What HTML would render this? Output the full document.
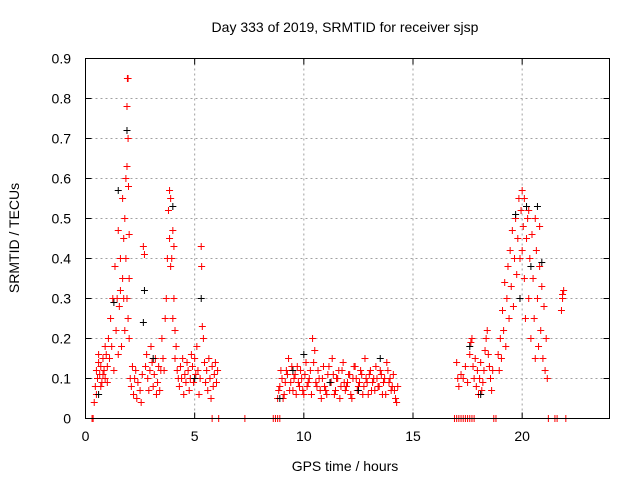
<!DOCTYPE html>
<html><head><meta charset="utf-8"><style>
body{margin:0;background:#fff;}
svg{display:block;font-family:"Liberation Sans",sans-serif;}
</style></head><body>
<svg id="chart" width="640" height="480" viewBox="0 0 640 480">
<rect width="640" height="480" fill="#fff"/>
<text x="345" y="32" font-size="14" text-anchor="middle">Day 333 of 2019, SRMTID for receiver sjsp</text>
<text transform="translate(19,238) rotate(-90)" font-size="14" text-anchor="middle">SRMTID / TECUs</text>
<text x="345" y="471" font-size="14" text-anchor="middle">GPS time / hours</text>
<g id="grid"></g>
<g id="ticks"></g>
<g id="red"></g>
<g id="black"></g>
<rect x="85.5" y="58.5" width="524" height="360" fill="none" stroke="#000" stroke-width="1"/>
</svg>
<script>
const xTicks=[0,5,10,15,20];
const yTicks=[0,0.1,0.2,0.3,0.4,0.5,0.6,0.7,0.8,0.9];
const yTickLabels=["0","0.1","0.2","0.3","0.4","0.5","0.6","0.7","0.8","0.9"];
const redT=[0.4,0.45,0.5,0.55,0.6,0.65,0.7,0.75,0.8,0.85,0.9,0.95,1.0,0.5,0.6,0.7,0.8,0.9,1.0,
1.05,1.1,1.15,1.2,1.25,1.3,1.35,1.4,1.45,1.5,1.5,1.55,1.6,1.6,1.65,1.7,1.7,1.75,1.75,1.8,1.8,1.85,1.85,1.9,1.9,1.92,1.95,1.95,1.97,2.0,2.0,1.95,1.9,2.0,
2.05,2.1,2.15,2.2,2.25,2.3,2.35,2.4,2.5,2.55,2.6,2.65,2.7,2.75,2.8,2.85,2.9,2.95,3.0,3.05,3.1,3.15,3.2,3.25,3.3,3.35,3.4,3.45,
3.5,3.55,3.6,3.65,3.7,3.75,3.8,3.85,3.85,3.9,3.9,3.95,4.0,4.0,4.05,4.05,4.1,4.1,4.15,4.2,4.25,
4.3,4.35,4.4,4.45,4.5,4.55,4.6,4.65,4.7,4.75,4.8,4.85,4.9,4.95,5.0,5.05,5.1,5.15,5.2,5.25,5.3,5.32,5.35,5.4,5.45,5.5,5.55,5.6,5.65,5.7,5.75,5.8,5.85,5.9,5.95,6.0,6.05,
8.8,8.9,9.0,9.1,9.2,9.3,9.4,9.5,9.6,9.7,9.8,9.9,10.0,10.1,10.2,10.3,10.4,10.5,10.6,10.7,10.8,10.9,11.0,11.1,11.2,11.3,11.4,11.5,11.6,11.7,11.8,11.9,12.0,12.1,12.2,12.3,12.4,12.5,12.6,12.7,12.8,12.9,13.0,13.1,13.2,13.3,13.4,13.5,13.6,13.7,13.8,13.9,14.0,14.1,14.2,14.3,
8.85,8.95,9.05,9.15,9.25,9.35,9.45,9.55,9.65,9.75,9.85,9.95,10.05,10.15,10.25,10.35,10.45,10.55,10.65,10.75,10.85,10.95,11.05,11.15,11.25,11.35,11.45,11.55,11.65,11.75,11.85,11.95,12.05,12.15,12.25,12.35,12.45,12.55,12.65,12.75,12.85,12.95,13.05,13.15,13.25,13.35,13.45,13.55,13.65,13.75,13.85,13.95,14.05,14.15,14.25,
17.0,17.05,17.1,17.2,17.3,17.4,17.5,17.6,17.65,17.7,17.75,17.8,17.85,17.9,17.95,18.0,18.05,18.1,18.15,18.2,18.25,18.3,18.35,18.4,18.45,18.5,18.55,18.6,18.65,
18.9,18.95,19.0,19.05,19.1,19.15,19.2,19.25,19.3,19.35,19.4,19.45,19.5,19.55,19.6,19.65,19.7,19.75,19.8,19.85,19.9,19.95,20.0,20.0,20.05,20.1,20.1,20.15,20.2,20.25,20.3,20.35,20.4,20.45,20.5,20.55,20.6,20.65,20.7,20.75,20.8,20.85,20.9,20.95,21.0,21.05,21.1,21.15,20.3,19.9,20.6,20.8,
21.8,21.85,21.9,21.85,
0.3,0.35,5.8,6.1,7.3,8.6,8.7,8.8,8.9,16.9,17.0,17.1,17.2,17.3,17.4,17.5,17.6,17.7,17.8,18.7,18.8,21.2,21.5,21.6,22.0];
const redV=[0.04,0.08,0.12,0.1,0.14,0.11,0.13,0.09,0.15,0.12,0.1,0.16,0.13,0.06,0.16,0.08,0.11,0.18,0.09,
0.2,0.15,0.25,0.18,0.3,0.12,0.38,0.22,0.3,0.47,0.16,0.28,0.32,0.4,0.18,0.35,0.55,0.3,0.45,0.5,0.22,0.4,0.6,0.78,0.63,0.85,0.85,0.7,0.58,0.46,0.35,0.25,0.3,0.2,
0.1,0.08,0.13,0.06,0.1,0.12,0.05,0.09,0.07,0.04,0.11,0.43,0.41,0.13,0.16,0.1,0.07,0.12,0.18,0.14,0.08,0.11,0.15,0.06,0.09,0.13,0.07,0.12,
0.2,0.15,0.12,0.25,0.3,0.4,0.52,0.57,0.45,0.55,0.38,0.4,0.47,0.25,0.43,0.3,0.22,0.15,0.18,0.12,0.1,
0.08,0.13,0.1,0.15,0.06,0.11,0.09,0.14,0.12,0.07,0.1,0.16,0.13,0.09,0.15,0.11,0.18,0.12,0.06,0.1,0.43,0.38,0.23,0.2,0.14,0.09,0.12,0.07,0.15,0.1,0.05,0.13,0.08,0.11,0.14,0.09,0.12,
0.05,0.08,0.1,0.06,0.12,0.15,0.09,0.07,0.11,0.13,0.08,0.1,0.06,0.14,0.09,0.12,0.2,0.17,0.08,0.1,0.05,0.13,0.07,0.11,0.09,0.15,0.06,0.1,0.12,0.08,0.14,0.07,0.09,0.11,0.05,0.13,0.1,0.08,0.12,0.06,0.15,0.09,0.11,0.07,0.1,0.13,0.08,0.12,0.06,0.1,0.14,0.09,0.07,0.11,0.05,0.08,
0.07,0.12,0.05,0.09,0.11,0.07,0.13,0.1,0.06,0.09,0.12,0.07,0.11,0.08,0.1,0.06,0.14,0.09,0.12,0.07,0.1,0.08,0.06,0.13,0.09,0.11,0.07,0.1,0.05,0.12,0.09,0.08,0.11,0.06,0.1,0.13,0.07,0.09,0.11,0.08,0.1,0.06,0.12,0.09,0.07,0.1,0.08,0.11,0.09,0.06,0.12,0.1,0.08,0.07,0.04,
0.14,0.1,0.08,0.11,0.1,0.13,0.09,0.16,0.19,0.2,0.13,0.1,0.15,0.08,0.12,0.06,0.1,0.14,0.07,0.09,0.12,0.17,0.2,0.22,0.16,0.13,0.1,0.07,0.12,
0.16,0.12,0.2,0.15,0.27,0.22,0.34,0.18,0.3,0.38,0.25,0.42,0.33,0.47,0.28,0.4,0.5,0.36,0.45,0.55,0.3,0.52,0.57,0.42,0.48,0.35,0.55,0.25,0.45,0.5,0.3,0.4,0.2,0.46,0.35,0.25,0.5,0.42,0.3,0.18,0.38,0.22,0.33,0.15,0.28,0.12,0.2,0.1,0.52,0.4,0.15,0.48,
0.27,0.3,0.32,0.31,
0,0,0,0,0,0,0,0,0,0,0,0,0,0,0,0,0,0,0,0,0,0,0,0,0];
const blackT=[0.6,1.3,1.5,1.9,2.7,2.65,3.1,4.0,5.3,5.0,9.5,10.0,11.2,13.5,12.5,17.6,19.7,20.2,20.4,20.7,20.9,19.9,18.1,8.9];
const blackV=[0.06,0.29,0.57,0.72,0.32,0.24,0.15,0.53,0.3,0.1,0.12,0.16,0.09,0.15,0.07,0.18,0.51,0.53,0.38,0.53,0.39,0.3,0.06,0.05];

const X0=85.5,X1=609.5,Y0=418.5,Y1=58.5;
const xs=t=>X0+(t/24)*(X1-X0);
const ys=v=>Y0-(v/0.9)*(Y0-Y1);
const NS="http://www.w3.org/2000/svg";
const grid=document.getElementById('grid'),ticks=document.getElementById('ticks');
function mk(tag,attrs,parent){const e=document.createElementNS(NS,tag);for(const k in attrs)e.setAttribute(k,attrs[k]);parent.appendChild(e);return e;}
xTicks.forEach(t=>{
  const x=xs(t);
  if(t>0){const g=mk('line',{x1:x,x2:x,y1:Y1,y2:Y0,stroke:'#a0a0a0','stroke-dasharray':'2,3'},grid);
  
  }
  const tk=mk('path',{d:`M${x},${Y0}v-6M${x},${Y1}v6`,stroke:'#000'},ticks);
  
  
  const lb=mk('text',{x:x,y:441,'font-size':14,'text-anchor':'middle'},ticks);lb.textContent=t;
  
  
});
yTicks.forEach((v,i)=>{
  const y=ys(v);
  if(v>0){const g=mk('line',{x1:X0,x2:X1,y1:y,y2:y,stroke:'#a0a0a0','stroke-dasharray':'2,3'},grid);
  
  }
  const tk=mk('path',{d:`M${X0},${y}h6M${X1},${y}h-6`,stroke:'#000'},ticks);
  
  
  const lb=mk('text',{x:71,y:y+5,'font-size':14,'text-anchor':'end'},ticks);lb.textContent=yTickLabels[i];
  
  
});
function plus(T,V,g,color){
  let d='';
  for(let i=0;i<T.length;i++){const x=xs(T[i]),y=ys(V[i]);d+=`M${x-3.5},${y}h7M${x},${y-3.5}v7`;}
  const p=mk('path',{d:d,stroke:color,'stroke-width':1,fill:'none'},g);
  
  
}
plus(redT,redV,document.getElementById('red'),'#ff0000');
plus(blackT,blackV,document.getElementById('black'),'#000000');
</script>
</body></html>
